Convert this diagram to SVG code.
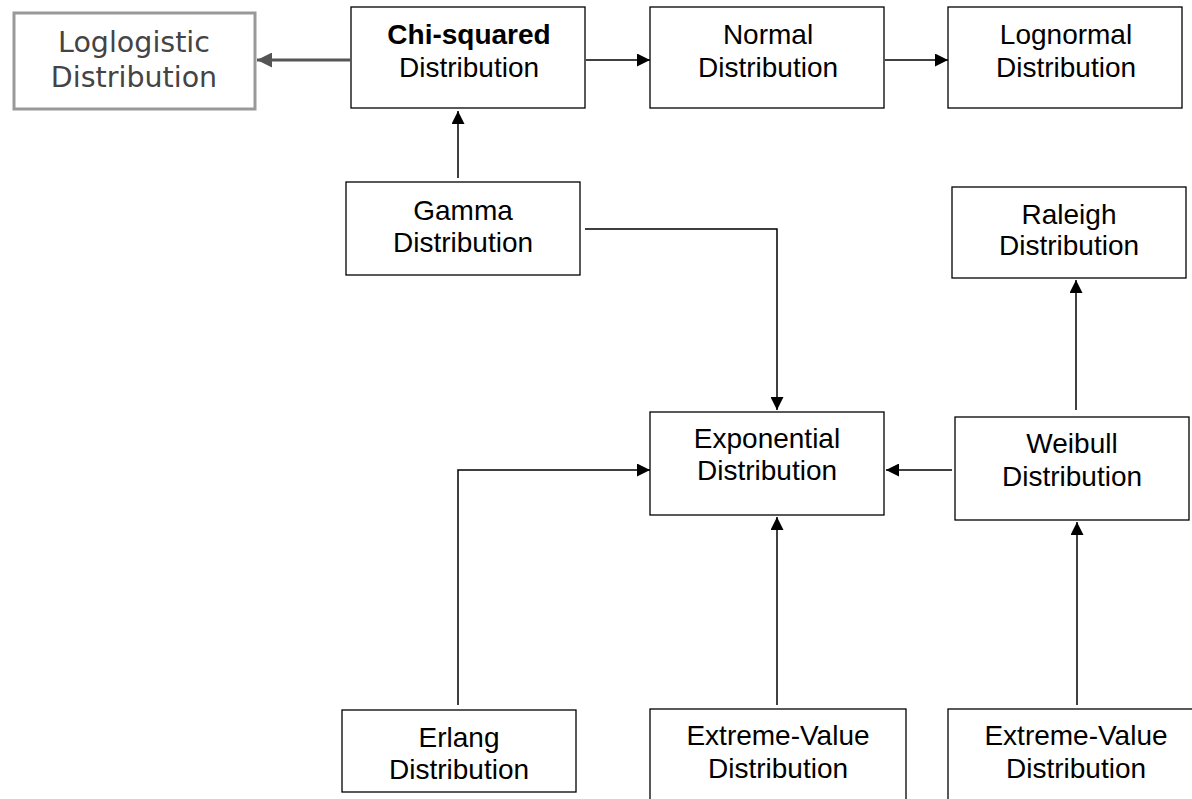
<svg xmlns="http://www.w3.org/2000/svg" width="1192" height="799" viewBox="0 0 1192 799">
<defs>
<marker id="ah" viewBox="0 0 10 10" refX="10" refY="5" markerWidth="13" markerHeight="13" markerUnits="userSpaceOnUse" orient="auto"><path d="M0,0 L10,5 L0,10 z" fill="#000"/></marker>
<marker id="ahg" viewBox="0 0 10 10" refX="10" refY="5" markerWidth="15" markerHeight="15" markerUnits="userSpaceOnUse" orient="auto"><path d="M0,0 L10,5 L0,10 z" fill="#555"/></marker>
<style>
.box{fill:#fff;stroke:#000;stroke-width:1.3}
.gbox{fill:#fff;stroke:#999;stroke-width:3}
.t{font-family:"Liberation Sans",Arial,sans-serif;font-size:28px;fill:#000;text-anchor:middle}
.b{font-weight:bold}
.g{font-family:"DejaVu Sans",Verdana,sans-serif;font-size:28.5px;fill:#444;text-anchor:middle}
.c{fill:none;stroke:#000;stroke-width:1.5;marker-end:url(#ah)}
.cg{fill:none;stroke:#555;stroke-width:3;marker-end:url(#ahg)}
</style>
</defs>
<rect width="1192" height="799" fill="#fff"/>
<g id="connectors">
<path class="cg" d="M350,60 L257,60"/>
<path class="c" d="M586,60 L650,60"/>
<path class="c" d="M885,60 L948,60"/>
<path class="c" d="M458,178 L458,111"/>
<path class="c" d="M585,229 L777,229 L777,410"/>
<path class="c" d="M1076,410 L1076,280"/>
<path class="c" d="M952,470 L886,470"/>
<path class="c" d="M458,705 L458,470 L650,470"/>
<path class="c" d="M777,705 L777,517"/>
<path class="c" d="M1077,705 L1077,522"/>
</g>
<g id="loglogistic"><rect class="gbox" x="14" y="13" width="241" height="96"/><text class="g" x="134" y="52">Loglogistic</text><text class="g" x="134" y="87">Distribution</text></g>
<g id="chisquared"><rect class="box" x="351" y="7" width="234" height="101"/><text class="t b" x="469" y="44">Chi-squared</text><text class="t" x="469" y="77">Distribution</text></g>
<g id="normal"><rect class="box" x="650" y="7" width="234" height="101"/><text class="t" x="768" y="44">Normal</text><text class="t" x="768" y="77">Distribution</text></g>
<g id="lognormal"><rect class="box" x="948" y="7" width="234" height="101"/><text class="t" x="1066" y="44">Lognormal</text><text class="t" x="1066" y="77">Distribution</text></g>
<g id="gamma"><rect class="box" x="346" y="182" width="234" height="93"/><text class="t" x="463" y="220">Gamma</text><text class="t" x="463" y="252">Distribution</text></g>
<g id="raleigh"><rect class="box" x="952" y="187" width="234" height="91"/><text class="t" x="1069" y="224">Raleigh</text><text class="t" x="1069" y="255">Distribution</text></g>
<g id="exponential"><rect class="box" x="650" y="412" width="234" height="103"/><text class="t" x="767" y="448">Exponential</text><text class="t" x="767" y="480">Distribution</text></g>
<g id="weibull"><rect class="box" x="955" y="417" width="234" height="103"/><text class="t" x="1072" y="453">Weibull</text><text class="t" x="1072" y="486">Distribution</text></g>
<g id="erlang"><rect class="box" x="342" y="710" width="234" height="82"/><text class="t" x="459" y="747">Erlang</text><text class="t" x="459" y="779">Distribution</text></g>
<g id="extreme1"><rect class="box" x="650" y="709" width="256" height="100"/><text class="t" x="778" y="745">Extreme-Value</text><text class="t" x="778" y="778">Distribution</text></g>
<g id="extreme2"><rect class="box" x="948" y="709" width="256" height="100"/><text class="t" x="1076" y="745">Extreme-Value</text><text class="t" x="1076" y="778">Distribution</text></g>
</svg>
